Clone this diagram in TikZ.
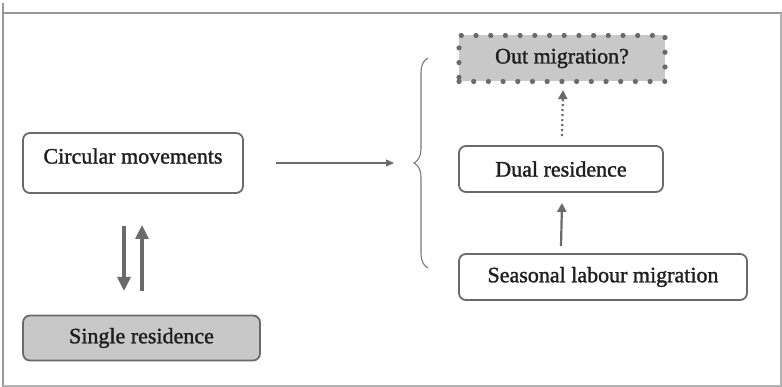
\documentclass[tikz,border=0pt]{standalone}
\usepackage{fontspec}
\setmainfont{Liberation Serif}
\newfontfamily\heavyserif{Liberation Serif}[FakeBold=1.4]
\usetikzlibrary{arrows.meta,decorations.pathreplacing}
\definecolor{edge}{HTML}{6A6A6A}
\definecolor{boxfill}{HTML}{C8C8C8}
\definecolor{txt}{HTML}{1E1E1E}
\tikzset{
  lbl/.style={text=txt,font=\heavyserif\fontsize{22}{25}\selectfont},
  box/.style={draw=edge,line width=1.8pt,rounded corners=7pt,fill=white,inner sep=0pt,lbl},
  greybox/.style={box,fill=boxfill},
  dotbox/.style={draw=edge,fill=boxfill,line width=5.2pt,line cap=round,dash pattern=on 0pt off 14.7pt,inner sep=0pt,lbl},
  arr/.style={draw=edge,line width=1.2pt,-{Triangle[length=8pt,width=7pt]}},
  thickarr/.style={draw=edge,line width=3.2pt,-{Triangle[length=14pt,width=13pt]}},
  frame/.style={draw=gray!80,line width=1.6pt}
}
\begin{document}
\begin{tikzpicture}[x=1pt,y=-1pt]
\useasboundingbox (0,0) rectangle (782,387);
% frame
\draw[frame] (3,3) -- (3,387);
\draw[frame] (3,13) -- (782,13);
\draw[draw=gray!60,line width=1.2pt] (781,13) -- (781,386) -- (3,386);
% nodes
\node[box,minimum width=220pt,minimum height=60pt] (circ) at (133,163) {};
\node[lbl] (circt) at (133,156) {Circular movements};
\node[greybox,minimum width=237pt,minimum height=45pt] (single) at (141.5,338) {Single residence};
\node[dotbox,minimum width=206pt,minimum height=46pt] (out) at (562,58.5) {Out migration?};
\node[box,minimum width=204pt,minimum height=46pt] (dual) at (561,169) {Dual residence};
\node[box,minimum width=288pt,minimum height=46pt] (seas) at (603,277) {Seasonal labour migration};
% brace
\coordinate (bt) at (428,58);
\coordinate (bb) at (428,268);
\draw[draw=edge!90,line width=1.1pt,decorate,decoration={brace,amplitude=14pt,mirror}] (bt) -- (bb);
% arrows
\coordinate (hs) at (276,163);
\coordinate (he) at (394,163);
\draw[arr] (hs) -- (he);
\coordinate (d1) at (124,226);
\coordinate (d2) at (124,291);
\coordinate (u1) at (142,291);
\coordinate (u2) at (142,225);
\draw[thickarr] (d1) -- (d2);
\draw[thickarr] (u1) -- (u2);
\draw[draw=edge,line width=2.2pt,dash pattern=on 2pt off 3pt,-{Triangle[length=9pt,width=9pt]}] ([xshift=1pt,yshift=9pt]dual.north) -- ([xshift=1pt,yshift=-6pt]out.south);
\draw[draw=edge,line width=2.2pt,-{Triangle[length=9pt,width=9pt]}] ([yshift=7pt]seas.north -| dual.south) -- ([xshift=1pt,yshift=-10pt]dual.south);
\end{tikzpicture}
\end{document}
